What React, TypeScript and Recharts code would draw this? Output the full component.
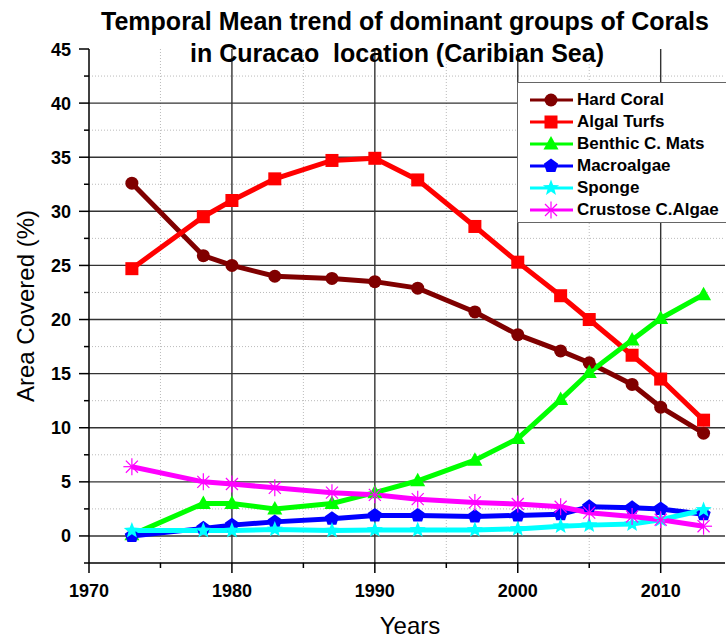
import React from "react";
import { LineChart, Line, XAxis, YAxis, CartesianGrid } from "recharts";

const years = [1973, 1978, 1980, 1983, 1987, 1990, 1993, 1997, 2000, 2003, 2005, 2008, 2010, 2013];
const hardCoral = [32.6, 25.9, 25.0, 24.0, 23.8, 23.5, 22.9, 20.7, 18.6, 17.1, 16.0, 14.0, 11.9, 9.5];
const algalTurfs = [24.7, 29.5, 31.0, 33.0, 34.7, 34.9, 32.9, 28.6, 25.3, 22.2, 20.0, 16.7, 14.5, 10.7];
const benthicMats = [0.1, 3.0, 3.0, 2.5, 3.0, 4.0, 5.1, 7.0, 9.0, 12.6, 15.1, 18.1, 20.1, 22.3];
const macroalgae = [0.0, 0.7, 1.0, 1.3, 1.6, 1.9, 1.9, 1.8, 1.9, 2.0, 2.7, 2.6, 2.5, 2.0];
const sponge = [0.5, 0.5, 0.5, 0.6, 0.5, 0.55, 0.55, 0.55, 0.65, 0.9, 1.0, 1.1, 1.5, 2.4];
const crustose = [6.4, 5.0, 4.8, 4.45, 4.0, 3.8, 3.4, 3.1, 2.95, 2.7, 2.15, 1.8, 1.5, 0.9];

const xTicks = [1970, 1975, 1980, 1985, 1990, 1995, 2000, 2005, 2010];
const yTicks = [-2.5, 0, 2.5, 5, 7.5, 10, 12.5, 15, 17.5, 20, 22.5, 25, 27.5, 30, 32.5, 35, 37.5, 40, 42.5, 45];
const yMajorGrid = [0, 5, 10, 15, 20, 25, 30, 35, 40];
const yMinorGrid = [2.5, 7.5, 12.5, 17.5, 22.5, 27.5, 32.5, 37.5, 42.5];
const xMajorGrid = [1980, 1990, 2000, 2010];
const xMinorGrid = [1975, 1985, 1995, 2005];

const seriesNames = ["Hard Coral", "Algal Turfs", "Benthic C. Mats", "Macroalgae", "Sponge", "Crustose C.Algae"];
const seriesKeys = ["hard", "algal", "benthic", "macro", "sponge", "crustose"];
const seriesValues = [hardCoral, algalTurfs, benthicMats, macroalgae, sponge, crustose];
const seriesColors = ["#800000", "#FF0000", "#00FF00", "#0000FF", "#00FFFF", "#FF00FF"];
const seriesShapes = ["circle", "square", "triangle", "pentagon", "star", "asterisk"];

const data = years.map((y, i) => {
  const row: any = { year: y };
  seriesKeys.forEach((k, j) => (row[k] = seriesValues[j][i]));
  return row;
});

const FONT = "'Liberation Sans', Arial, sans-serif";

function marker(shape: string, cx: number, cy: number, color: string, key?: any) {
  switch (shape) {
    case "circle":
      return <circle key={key} cx={cx} cy={cy} r={6.5} fill={color} />;
    case "square":
      return <rect key={key} x={cx - 6.5} y={cy - 6.5} width={13} height={13} fill={color} />;
    case "triangle":
      return <polygon key={key} points={`${cx},${cy - 8} ${cx + 7.5},${cy + 5.5} ${cx - 7.5},${cy + 5.5}`} fill={color} />;
    case "pentagon": {
      const pts = [0, 1, 2, 3, 4]
        .map((k) => {
          const a = ((-90 + k * 72) * Math.PI) / 180;
          return `${cx + 7.5 * Math.cos(a)},${cy + 7.5 * Math.sin(a)}`;
        })
        .join(" ");
      return <polygon key={key} points={pts} fill={color} />;
    }
    case "star": {
      const pts = Array.from({ length: 10 })
        .map((_, k) => {
          const a = ((-90 + k * 36) * Math.PI) / 180;
          const r = k % 2 === 0 ? 8.5 : 3.6;
          return `${cx + r * Math.cos(a)},${cy + r * Math.sin(a)}`;
        })
        .join(" ");
      return <polygon key={key} points={pts} fill={color} />;
    }
    case "asterisk": {
      const r = 8.5;
      return (
        <g key={key} stroke={color} strokeWidth={1.2}>
          {[0, 45, 90, 135].map((d) => {
            const a = (d * Math.PI) / 180;
            return (
              <line
                key={d}
                x1={cx - r * Math.cos(a)}
                y1={cy - r * Math.sin(a)}
                x2={cx + r * Math.cos(a)}
                y2={cy + r * Math.sin(a)}
              />
            );
          })}
        </g>
      );
    }
  }
  return null;
}

const XTick = (props: any) => {
  const { x, y, payload } = props;
  const v = payload.value;
  const major = v % 10 === 0;
  return (
    <g>
      <line x1={x} y1={y} x2={x} y2={y + (major ? 10 : 5)} stroke="#000" strokeWidth={1.5} />
      {major && (
        <text x={x} y={y + 34} textAnchor="middle" fontFamily={FONT} fontWeight="bold" fontSize={18} fill="#000">
          {v}
        </text>
      )}
    </g>
  );
};

const YTick = (props: any) => {
  const { x, y, payload } = props;
  const v = payload.value;
  const major = Math.abs(v % 5) < 1e-9;
  return (
    <g>
      <line x1={x - (major ? 10 : 5)} y1={y} x2={x} y2={y} stroke="#000" strokeWidth={1.5} />
      {major && (
        <text x={x - 18} y={y + 6.5} textAnchor="end" fontFamily={FONT} fontWeight="bold" fontSize={18} fill="#000">
          {v}
        </text>
      )}
    </g>
  );
};

export default function App() {
  return (
    <div style={{ position: "absolute", left: 0, top: 0, width: 726, height: 639, background: "#fff", fontFamily: FONT }}>
      <LineChart width={726} height={639} data={data} margin={{ top: 49, right: 1, bottom: 0, left: 0 }}>
        <CartesianGrid
          horizontalValues={yMinorGrid}
          verticalValues={xMinorGrid}
          stroke="#bbbbbb"
          strokeDasharray="1 2"
        />
        <CartesianGrid horizontalValues={yMajorGrid} verticalValues={xMajorGrid} stroke="#333" strokeWidth={1.4} />
        <XAxis
          type="number"
          dataKey="year"
          domain={[1970, 2014.5]}
          ticks={xTicks}
          interval={0}
          height={76}
          tickSize={0}
          tickMargin={0}
          tickLine={false}
          tick={<XTick />}
          axisLine={{ stroke: "#000", strokeWidth: 1.5 }}
          allowDataOverflow
        />
        <YAxis
          type="number"
          domain={[-2.5, 45]}
          ticks={yTicks}
          interval={0}
          width={89}
          tickSize={0}
          tickMargin={0}
          tickLine={false}
          tick={<YTick />}
          axisLine={{ stroke: "#000", strokeWidth: 1.5 }}
          allowDataOverflow
        />
        {seriesKeys.map((k, j) => (
          <Line
            key={k}
            type="linear"
            dataKey={k}
            name={seriesNames[j]}
            stroke={seriesColors[j]}
            strokeWidth={5}
            isAnimationActive={false}
            dot={(p: any) => marker(seriesShapes[j], p.cx, p.cy, seriesColors[j], p.index)}
            activeDot={false}
          />
        ))}
      </LineChart>

      <div
        style={{
          position: "absolute",
          left: 0,
          width: 810,
          top: 5,
          textAlign: "center",
          fontWeight: "bold",
          fontSize: 25,
          lineHeight: "32px",
          whiteSpace: "pre",
          color: "#000",
        }}
      >
        {"Temporal Mean trend of dominant groups of Corals"}
      </div>
      <div
        style={{
          position: "absolute",
          left: 0,
          width: 794,
          top: 37,
          textAlign: "center",
          fontWeight: "bold",
          fontSize: 25,
          lineHeight: "32px",
          whiteSpace: "pre",
          color: "#000",
        }}
      >
        {"in Curacao  location (Caribian Sea)"}
      </div>

      <div
        style={{
          position: "absolute",
          left: 26 - 150,
          top: 306 - 15,
          width: 300,
          height: 30,
          lineHeight: "30px",
          textAlign: "center",
          fontSize: 24,
          transform: "rotate(-90deg)",
          color: "#000",
        }}
      >
        Area Covered (%)
      </div>
      <div
        style={{
          position: "absolute",
          left: 410 - 100,
          top: 611,
          width: 200,
          lineHeight: "30px",
          textAlign: "center",
          fontSize: 24,
          color: "#000",
        }}
      >
        Years
      </div>

      <div
        style={{
          position: "absolute",
          left: 517,
          top: 82,
          width: 212,
          height: 141,
          border: "1px solid #666",
          background: "#fff",
          boxSizing: "border-box",
          paddingTop: 6,
        }}
      >
        {seriesNames.map((n, j) => (
          <div key={n} style={{ height: 22, position: "relative" }}>
            <svg width={50} height={22} style={{ position: "absolute", left: 10, top: 0 }}>
              <line x1={2} y1={11} x2={45} y2={11} stroke={seriesColors[j]} strokeWidth={3} />
              {marker(seriesShapes[j], 23, 11, seriesColors[j])}
            </svg>
            <span
              style={{
                position: "absolute",
                left: 59,
                top: 0,
                lineHeight: "22px",
                fontSize: 17,
                fontWeight: "bold",
                color: "#000",
                whiteSpace: "nowrap",
              }}
            >
              {n}
            </span>
          </div>
        ))}
      </div>
    </div>
  );
}
